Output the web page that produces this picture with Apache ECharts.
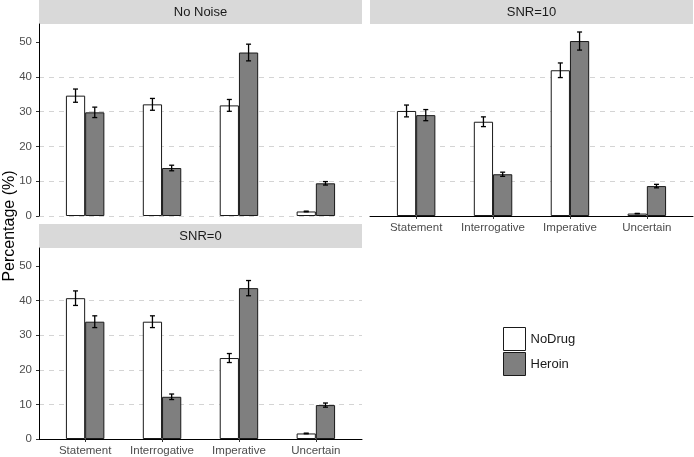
<!DOCTYPE html>
<html lang="en">
<head>
    <meta charset="UTF-8">
    <title>Percentage by sentence type</title>
    <style>
        html, body { margin: 0; padding: 0; background: #fff; }
        #main { width: 694px; height: 457px; }
    </style>
</head>
<body>
    <div id="main"></div>
    <script src="https://cdn.jsdelivr.net/npm/echarts@6/dist/echarts.min.js"></script>
    <script>
        // categories and panels
        var categories = ['Statement', 'Interrogative', 'Imperative', 'Uncertain'];
        var panelNames = ['No Noise', 'SNR=10', 'SNR=0'];
        var yTicks = [0, 10, 20, 30, 40, 50];

        // values (%)
        var noNoiseNoDrug = [34.6, 32.1, 31.8, 1.3];
        var noNoiseNoDrugErr = [1.9, 1.7, 1.7, 0.1];
        var noNoiseHeroin = [29.8, 13.8, 47.0, 9.4];
        var noNoiseHeroinErr = [1.5, 0.8, 2.4, 0.5];

        var snr10NoDrug = [30.2, 27.1, 41.9, 0.7];
        var snr10NoDrugErr = [1.7, 1.4, 2.1, 0.05];
        var snr10Heroin = [29.0, 12.0, 50.3, 8.6];
        var snr10HeroinErr = [1.6, 0.6, 2.6, 0.5];

        var snr0NoDrug = [40.7, 33.9, 23.4, 1.6];
        var snr0NoDrugErr = [2.1, 1.7, 1.3, 0.1];
        var snr0Heroin = [33.9, 12.2, 43.6, 9.8];
        var snr0HeroinErr = [1.7, 0.8, 2.2, 0.6];

        var panels = [
            { nd: noNoiseNoDrug, ndErr: noNoiseNoDrugErr, h: noNoiseHeroin, hErr: noNoiseHeroinErr },
            { nd: snr10NoDrug, ndErr: snr10NoDrugErr, h: snr10Heroin, hErr: snr10HeroinErr },
            { nd: snr0NoDrug, ndErr: snr0NoDrugErr, h: snr0Heroin, hErr: snr0HeroinErr }
        ];

        var font = "'Liberation Sans', Arial, sans-serif";
        var grids = [
            { left: 39, top: 24, width: 323, height: 192 },
            { left: 370, top: 24, width: 323, height: 192 },
            { left: 39, top: 248, width: 323, height: 191 }
        ];
        var showXAxis = [false, true, true];
        var showYAxis = [true, false, true];

        var myecharts = echarts.init(document.getElementById('main'));

        // error bars with small caps
        function errRender(params, api) {
            var x = api.value(0), v = api.value(1), e = api.value(2);
            var top = api.coord([x, v + e]);
            var bot = api.coord([x, v - e]);
            var style = { stroke: '#000', lineWidth: 1.3 };
            return {
                type: 'group',
                children: [
                    { type: 'line', shape: { x1: top[0], y1: top[1], x2: bot[0], y2: bot[1] }, style: style },
                    { type: 'line', shape: { x1: top[0] - 2.5, y1: top[1], x2: top[0] + 2.5, y2: top[1] }, style: style },
                    { type: 'line', shape: { x1: bot[0] - 2.5, y1: bot[1], x2: bot[0] + 2.5, y2: bot[1] }, style: style }
                ]
            };
        }

        var xAxes = [], yAxes = [], series = [], graphics = [];
        grids.forEach(function (g, i) {
            xAxes.push({
                type: 'value', gridIndex: i, min: 0.4, max: 4.6,
                splitLine: { show: false },
                axisLine: { show: showXAxis[i], onZero: false, lineStyle: { color: '#000', width: 1 } },
                axisTick: { show: showXAxis[i], customValues: [1, 2, 3, 4], length: 3, lineStyle: { color: '#333' } },
                axisLabel: {
                    show: showXAxis[i], customValues: [1, 2, 3, 4], margin: 6,
                    fontSize: 11.5, color: '#4d4d4d', fontFamily: font,
                    formatter: function (v) { return categories[Math.round(v) - 1]; }
                }
            });
            yAxes.push({
                type: 'value', gridIndex: i, min: 0, max: 55.2, interval: 10,
                splitLine: { show: true, showMaxLine: false, lineStyle: { color: '#d4d4d4', type: [5, 5], width: 1 } },
                axisLine: { show: showYAxis[i], lineStyle: { color: '#000', width: 1 } },
                axisTick: { show: showYAxis[i], customValues: yTicks, length: 3, lineStyle: { color: '#333' } },
                axisLabel: {
                    show: showYAxis[i], customValues: yTicks, margin: 7,
                    fontSize: 11.5, color: '#4d4d4d', fontFamily: font
                }
            });

            var p = panels[i];
            series.push({
                name: 'NoDrug', type: 'bar', xAxisIndex: i, yAxisIndex: i,
                barWidth: '25%', barGap: '0%',
                itemStyle: { color: '#ffffff', borderColor: '#1a1a1a', borderWidth: 1 },
                data: p.nd.map(function (v, k) { return [k + 1, v]; })
            });
            series.push({
                name: 'Heroin', type: 'bar', xAxisIndex: i, yAxisIndex: i,
                barWidth: '25%', barGap: '0%',
                itemStyle: { color: '#7f7f7f', borderColor: '#1a1a1a', borderWidth: 1 },
                data: p.h.map(function (v, k) { return [k + 1, v]; })
            });
            var errData = [];
            p.nd.forEach(function (v, k) { errData.push([k + 1 - 0.125, v, p.ndErr[k]]); });
            p.h.forEach(function (v, k) { errData.push([k + 1 + 0.125, v, p.hErr[k]]); });
            series.push({
                type: 'custom', xAxisIndex: i, yAxisIndex: i, z: 5,
                renderItem: errRender, data: errData, silent: true
            });

            // facet strip
            graphics.push({
                type: 'rect', left: g.left, top: g.top - 24,
                shape: { width: g.width, height: 24 },
                style: { fill: '#d9d9d9' }
            });
            graphics.push({
                type: 'text', x: g.left + g.width / 2, y: g.top - 12,
                style: {
                    text: panelNames[i], fill: '#1a1a1a', fontSize: 13, fontFamily: font,
                    textAlign: 'center', textVerticalAlign: 'middle'
                }
            });
        });

        graphics.push({
            type: 'text', x: 10, y: 226, rotation: Math.PI / 2,
            style: {
                text: 'Percentage (%)', fill: '#000', fontSize: 16, fontFamily: font,
                textAlign: 'center', textVerticalAlign: 'middle'
            }
        });

        var option = {
            animation: false,
            grid: grids,
            xAxis: xAxes,
            yAxis: yAxes,
            legend: {
                data: ['NoDrug', 'Heroin'],
                orient: 'vertical', left: 498, top: 322,
                itemWidth: 22, itemHeight: 23, itemGap: 1, icon: 'rect',
                itemStyle: { borderColor: '#1a1a1a', borderWidth: 1 },
                textStyle: { fontSize: 13, color: '#1a1a1a', fontFamily: font }
            },
            graphic: graphics,
            series: series
        };
        myecharts.setOption(option);
    </script>
</body>
</html>
